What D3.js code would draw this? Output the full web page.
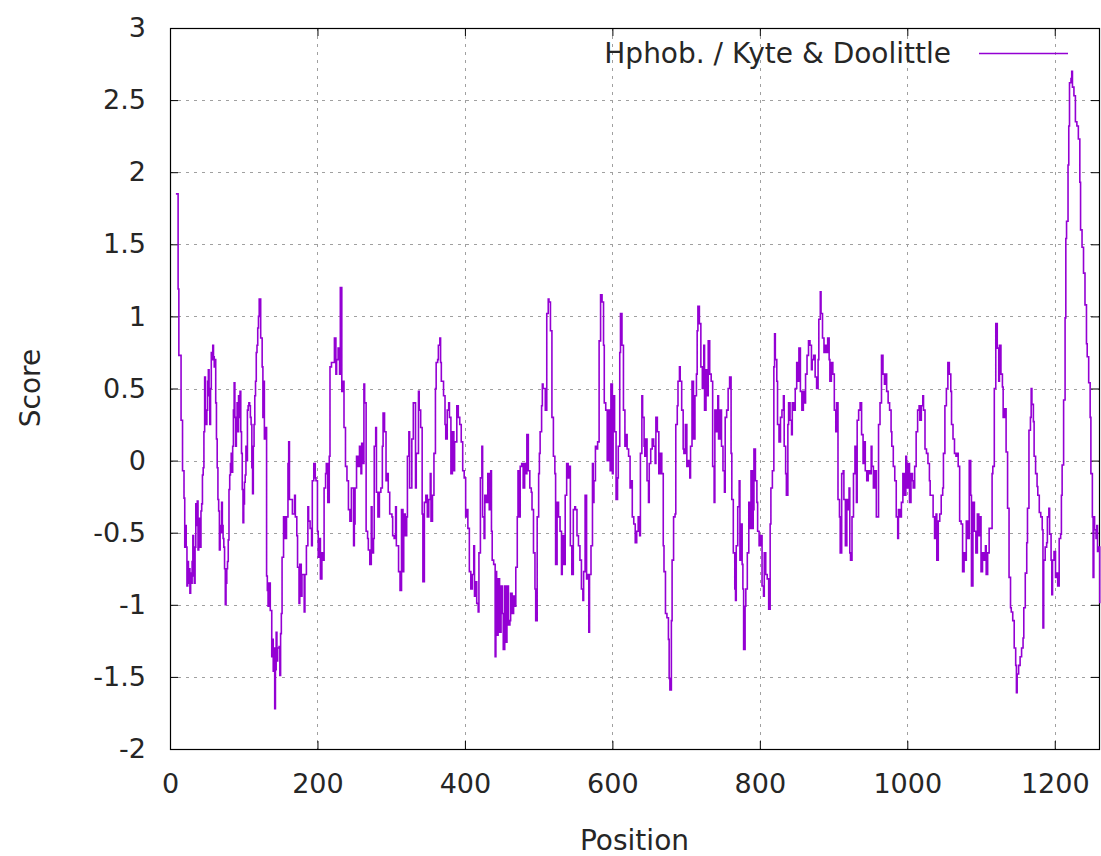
<!DOCTYPE html>
<html>
<head>
<meta charset="utf-8">
<script src="https://cdn.jsdelivr.net/npm/d3@7"></script>
<style>
  html, body { margin: 0; padding: 0; background: #fff; }
  svg { display: block; font-family: "DejaVu Sans", sans-serif; }
</style>
</head>
<body>
<svg id="chart" width="1101" height="856"></svg>
<script>
// Kyte & Doolittle hydropathy profile (sliding-window score per residue position)
const positions = [
  8,10,11,12,14,15,17,19,20,21,22,23,24,25,26,27,28,29,30,31,32,33,34,35,36,37,38,39,40,41,42,43,44,45,46,47,48,49,50,
  51,52,53,54,55,56,57,58,59,60,61,62,63,64,65,66,67,68,69,70,71,72,73,74,75,76,77,78,79,80,81,82,83,84,85,86,87,88,89,90,
  91,92,93,94,95,96,97,98,99,100,101,102,103,104,105,106,107,108,109,110,111,112,113,114,115,116,117,118,119,120,121,
  122,123,125,126,127,128,129,131,132,133,134,136,138,139,140,141,142,143,144,145,146,148,149,150,151,152,154,156,158,160,
  161,162,164,166,169,170,172,173,175,176,178,179,182,183,185,187,188,190,192,193,195,197,198,200,201,202,204,206,208,209,
  211,212,214,216,217,219,221,223,225,226,228,230,231,233,235,236,238,240,242,244,246,249,250,
  251,253,255,257,259,260,261,263,264,266,268,269,271,273,274,276,277,279,280,282,284,286,288,289,291,293,295,296,298,301,
  302,304,306,307,310,312,314,316,317,319,321,322,324,325,328,330,331,333,334,337,338,340,342,343,345,347,349,351,353,354,
  356,358,360,361,363,364,366,367,368,371,373,374,376,378,
  379,381,383,385,386,389,391,393,395,397,399,401,403,404,406,408,410,412,413,414,416,418,419,421,423,424,426,427,429,431,
  433,435,436,437,439,441,442,443,445,447,449,451,452,454,456,457,459,461,462,464,466,467,469,471,472,474,475,477,479,481,
  482,484,486,488,490,491,493,495,496,498,500,
  501,502,504,505,506,507,509,511,513,514,516,518,520,522,523,525,527,529,531,532,534,536,538,540,541,543,545,547,549,550,
  552,554,556,558,560,561,563,565,566,568,569,571,573,574,575,577,578,580,582,584,586,588,589,591,593,595,597,598,600,601,
  603,605,607,608,610,611,613,615,617,618,620,622,624,626,627,629,631,633,635,
  636,637,638,640,641,643,644,645,647,649,650,652,654,656,658,659,661,663,665,667,669,670,672,674,676,677,678,680,681,683,
  685,686,688,689,691,692,694,696,697,699,701,703,705,706,708,710,712,714,715,716,718,720,722,724,725,727,729,730,732,734,
  736,738,739,741,743,744,746,748,750,752,753,755,757,759,761,
  762,764,766,767,768,770,772,773,774,776,777,778,780,781,783,785,786,788,790,791,792,794,796,797,799,801,803,805,806,808,
  810,812,814,815,817,819,820,821,823,824,826,828,830,832,833,835,836,838,839,841,843,844,846,848,850,852,853,855,857,859,
  861,862,864,866,868,870,871,873,875,877,879,880,882,883,885,887,889,
  890,892,894,895,897,899,901,903,904,906,908,909,911,913,914,916,918,919,921,922,923,925,927,929,931,932,934,936,938,940,
  941,943,945,947,949,951,952,954,956,958,960,961,963,965,967,969,970,972,974,976,978,979,981,983,985,987,988,990,992,994,
  996,998,999,1001,1003,1005,1007,1008,1010,1012,1014,1016,1017,
  1019,1021,1022,1024,1026,1028,1030,1031,1033,1035,1037,1039,1040,1042,1044,1046,1048,1049,1051,1053,1055,1057,1059,1060,
  1062,1064,1066,1068,1069,1071,1073,1075,1077,1078,1080,1082,1084,1086,1087,1089,1091,1093,1095,1097,1098,1100,1102,1104,
  1106,1107,1109,1111,1113,1115,1116,1118,1120,1122,1124,1125,1127,
  1129,1130,1132,1134,1136,1138,1140,1141,1143,1145,1147,1148,1149,1151,1153,1155,1157,1158,1160,1162,1163,1165,1167,1168,
  1169,1171,1172,1174,1176,1177,1179,1181,1183,1184,1185,1187,1189,1190,1192,1193,1195,1196,1197,1199,1201,1203,1204,1206,
  1208,1209,1210,1212,1214,1215,1216,1218,1219,1220,1222,1223,1224,1226,1228,1230,1232,1234,1235,1237,1239,1241,1243,1244,
  1246,1248,1249,1251,1252,1253,1254,1256,1257,1258,1260,1261
];

const scores = [
  1.85,1.85,1.19,0.73,0.73,0.28,-0.07,-0.26,-0.6,-0.45,-0.6,-0.87,-0.7,-0.85,-0.75,-0.92,-0.78,-0.85,-0.7,-0.52,-0.8,-0.85,-0.6,-0.3,-0.45,-0.28,-0.62,-0.4,-0.4,-0.6,-0.35,-0.3,-0.1,-0.05,0.2,0.58,0.35,0.25,0.35,
  0.55,0.63,0.45,0.25,0.5,0.75,0.7,0.8,0.72,0.65,0.7,0.4,0.15,-0.05,-0.27,-0.35,-0.62,-0.45,-0.5,-0.29,-0.45,-0.54,-0.6,-0.75,-1.0,-0.85,-0.75,-0.7,-0.55,-0.2,-0.1,-0.02,0.05,-0.08,0.1,0.35,0.54,0.3,0.1,0.3,
  0.4,0.2,0.45,0.3,0.48,0.2,0.05,-0.2,-0.43,-0.3,-0.15,-0.1,0.1,0.0,0.35,0.38,0.4,0.38,0.3,0.25,-0.05,-0.23,0.1,0.25,0.45,0.55,0.75,0.8,0.92,1.0,1.12,
  1.12,0.85,0.65,0.3,0.55,0.15,0.23,-0.8,-0.9,-1.01,-0.85,-1.04,-1.36,-1.24,-1.46,-1.3,-1.72,-1.45,-1.19,-1.39,-1.3,-1.29,-1.49,-1.2,-1.06,-0.67,-0.39,-0.54,-0.39,-0.02,
  0.13,-0.27,-0.27,-0.37,-0.24,-0.39,-0.52,-0.74,-0.99,-0.72,-0.94,-0.79,-1.05,-0.79,-0.59,-0.32,-0.42,-0.47,-0.59,-0.14,-0.02,-0.12,-0.14,-0.49,-0.67,-0.54,-0.82,-0.64,-0.69,-0.19,
  -0.09,-0.02,-0.29,0.03,0.65,0.68,0.68,0.85,0.6,0.7,0.78,0.6,1.2,0.48,0.55,0.23,-0.04,-0.14,-0.34,-0.42,-0.19,-0.59,-0.44,
  -0.19,0.03,-0.04,0.1,-0.09,0.12,-0.02,0.53,0.4,-0.49,-0.54,-0.62,-0.72,-0.32,-0.64,-0.54,0.1,0.23,-0.22,-0.39,-0.22,-0.19,0.1,0.33,0.2,-0.14,-0.09,-0.22,-0.37,-0.39,
  -0.52,-0.54,-0.32,-0.59,-0.77,-0.9,-0.34,-0.77,-0.37,-0.52,-0.39,0.03,0.2,-0.19,0.15,0.4,0.4,-0.19,0.05,0.48,0.35,0.23,-0.37,-0.84,-0.29,-0.24,-0.39,-0.27,-0.09,-0.42,
  -0.24,0.05,0.5,0.68,0.7,0.8,0.85,0.68,0.55,0.45,0.25,0.15,0.35,0.4,
  0.3,-0.09,0.2,-0.07,0.13,0.38,0.3,0.25,0.13,-0.07,-0.12,-0.39,-0.34,-0.47,-0.77,-0.89,-0.79,-0.59,-0.94,-0.84,-0.99,-1.05,-0.64,-0.12,0.1,-0.39,-0.54,-0.24,-0.29,-0.09,
  -0.34,-0.07,-0.49,-0.69,-0.72,-1.36,-0.77,-1.21,-0.82,-1.19,-0.87,-1.06,-1.31,-0.87,-1.26,-0.87,-1.14,-1.11,-0.92,-1.06,-0.94,-1.01,-0.74,-0.39,-0.07,-0.39,-0.04,-0.02,-0.19,-0.02,
  -0.09,0.18,-0.07,-0.19,-0.22,-0.34,-0.64,-0.89,-1.11,-0.39,-0.09,
  0.05,0.2,0.38,0.53,0.5,0.5,0.35,1.02,1.12,1.1,0.9,0.3,0.03,-0.09,-0.72,-0.29,-0.39,-0.49,-0.79,-0.52,-0.72,-0.24,-0.02,-0.12,-0.04,-0.59,-0.79,-0.34,-0.32,-0.34,
  -0.52,-0.59,-0.69,-0.89,-0.97,-0.77,-0.24,-0.82,-0.79,-1.19,-0.79,-0.59,-0.02,-0.29,-0.14,0.1,0.08,0.13,0.83,1.15,1.1,0.8,0.4,0.35,0.0,0.35,-0.07,0.53,-0.09,0.45,
  0.2,-0.27,-0.12,0.1,0.75,1.02,0.8,0.35,0.1,0.18,0.08,0.03,-0.19,-0.14,-0.39,-0.44,-0.57,-0.49,-0.39,
  -0.42,-0.52,0.05,0.45,0.3,0.1,0.03,0.15,-0.14,-0.29,-0.02,0.08,0.15,0.1,-0.02,0.3,0.2,-0.09,0.05,-0.09,-0.59,-0.77,-1.06,-1.09,-1.24,-1.51,-1.59,-1.11,-0.69,-0.39,
  -0.37,0.25,0.38,0.55,0.65,0.55,0.35,0.08,0.05,0.25,-0.04,0.0,-0.12,0.1,0.55,0.15,0.45,0.6,0.9,1.07,0.95,0.65,0.5,0.8,0.35,0.63,0.45,0.83,0.6,0.55,
  -0.04,-0.29,0.35,0.2,0.45,0.15,0.35,0.1,-0.07,-0.22,0.3,0.35,0.5,0.58,0.05,
  -0.27,-0.64,-0.89,-0.97,-0.59,-0.32,-0.14,-0.69,-0.44,-0.72,-0.89,-1.31,-1.01,-0.89,-0.64,-0.29,-0.47,-0.07,-0.47,-0.34,0.08,-0.14,-0.29,-0.49,-0.59,-0.52,-0.87,-0.94,-0.64,-0.79,
  -0.82,-1.03,-0.44,-0.19,-0.07,0.65,0.88,0.7,0.55,0.25,0.13,0.3,0.35,0.45,0.1,-0.09,-0.24,0.25,0.4,0.28,0.18,0.4,0.35,0.5,0.68,0.55,0.78,0.48,0.35,0.48,
  0.4,0.6,0.73,0.83,0.8,0.63,0.7,0.73,0.58,0.5,0.7,0.98,1.17,1.02,0.85,0.75,0.8,
  0.75,0.85,0.7,0.55,0.68,0.6,0.35,0.2,0.4,-0.27,-0.39,-0.64,-0.09,-0.07,-0.27,-0.59,-0.27,-0.34,-0.19,-0.64,-0.69,-0.39,-0.09,0.1,-0.29,0.28,0.35,0.4,0.18,-0.02,
  0.13,-0.07,-0.14,-0.07,-0.09,0.1,-0.04,-0.19,-0.07,-0.39,-0.39,0.25,0.4,0.73,0.6,0.53,0.6,0.48,0.4,0.35,0.2,0.1,-0.04,-0.14,-0.39,-0.54,-0.34,-0.39,-0.29,-0.09,
  -0.24,0.03,-0.19,-0.02,-0.29,-0.09,-0.14,-0.19,-0.04,0.2,0.35,0.38,0.28,
  0.38,0.45,0.35,0.08,0.05,-0.02,-0.14,-0.24,-0.24,-0.39,-0.54,-0.37,-0.69,-0.42,-0.37,-0.24,-0.19,0.05,0.38,0.5,0.68,0.6,0.48,0.25,
  0.15,0.05,0.03,0.05,-0.04,-0.42,-0.44,-0.77,-0.64,-0.69,-0.42,-0.54,0.0,-0.24,-0.87,-0.29,-0.49,-0.64,-0.37,-0.52,-0.39,-0.77,-0.64,-0.69,
  -0.59,-0.79,-0.64,-0.47,-0.47,-0.09,-0.04,0.5,0.95,0.78,0.55,0.8,0.6,
  0.51,0.3,0.36,0.06,-0.33,-0.81,-1.02,-1.05,-1.11,-1.3,-1.42,-1.61,-1.48,-1.42,-1.36,-1.3,-1.23,-1.02,-0.78,-0.57,-0.33,0.21,0.3,0.5,
  0.39,0.27,0.03,-0.09,-0.18,-0.24,-0.36,-0.39,-0.48,-1.16,-0.69,-0.6,-0.57,-0.39,-0.33,-0.51,-0.69,-0.93,-0.69,-0.63,-0.81,-0.78,-0.87,-0.54,
  -0.51,-0.24,-0.03,0.42,0.99,1.54,1.66,2.05,2.32,2.62,2.65,2.7,2.59,2.53,2.35,2.32,2.23,1.93,1.6,1.48,1.3,1.08,0.81,0.72,
  0.54,0.3,-0.09,-0.39,-0.81,-0.39,-0.48,-0.54,-0.45,-0.63,-0.6,-0.99
];

const xTicks = [0, 200, 400, 600, 800, 1000, 1200];
const yTicks = [-2, -1.5, -1, -0.5, 0, 0.5, 1, 1.5, 2, 2.5, 3];
const seriesName = "Hphob. / Kyte & Doolittle";
const xTitle = "Position";
const yTitle = "Score";

const data = positions.map((p, i) => ({ pos: p, score: scores[i] }));

const svg = d3.select("#chart");
const plotL = 170, plotR = 1099, plotT = 28, plotB = 749;

const x = d3.scaleLinear().domain([0, 1260]).range([plotL, plotR]);
const y = d3.scaleLinear().domain([-2, 3]).range([plotB, plotT]);

const tickFont = 27;
const labelFont = 28;
const textColor = "#262626";
const purple = "#9400d3";

// grid
const grid = svg.append("g").attr("stroke", "#a0a0a0").attr("stroke-width", 1)
  .attr("stroke-dasharray", "3,5").attr("shape-rendering", "crispEdges");
grid.selectAll("line.h").data(yTicks.filter(t => t > -2 && t < 3)).join("line")
  .attr("class", "h")
  .attr("x1", plotL).attr("x2", plotR)
  .attr("y1", d => Math.round(y(d)) + 0.5).attr("y2", d => Math.round(y(d)) + 0.5);
grid.selectAll("line.v").data(xTicks.filter(t => t > 0)).join("line")
  .attr("class", "v")
  .attr("y1", plotT).attr("y2", plotB)
  .attr("x1", d => Math.round(x(d)) + 0.5).attr("x2", d => Math.round(x(d)) + 0.5);

// axes: ticks on all four sides, pointing inward
const axisBottom = d3.axisBottom(x).tickValues(xTicks).tickSize(-8).tickPadding(20).tickFormat(d3.format("d"));
const axisTop = d3.axisTop(x).tickValues(xTicks).tickSize(-8).tickFormat("");
const axisLeft = d3.axisLeft(y).tickValues(yTicks).tickSize(-8).tickPadding(24).tickFormat(d => String(d));
const axisRight = d3.axisRight(y).tickValues(yTicks).tickSize(-8).tickFormat("");

function styleAxis(g) {
  g.select(".domain").remove();
  g.selectAll(".tick line").attr("stroke", "#000").attr("stroke-width", 1);
  g.selectAll(".tick text").attr("fill", textColor).attr("font-size", tickFont)
    .attr("font-family", "DejaVu Sans, sans-serif");
}
svg.append("g").attr("transform", `translate(0,${plotB})`).call(axisBottom).call(styleAxis)
  .selectAll(".tick text").attr("dy", "0.9em");
svg.append("g").attr("transform", `translate(0,${plotT})`).call(axisTop).call(styleAxis);
svg.append("g").attr("transform", `translate(${plotL},0)`).call(axisLeft).call(styleAxis);
svg.append("g").attr("transform", `translate(${plotR},0)`).call(axisRight).call(styleAxis);

// plot frame
svg.append("rect")
  .attr("x", plotL + 0.5).attr("y", plotT + 0.5)
  .attr("width", plotR - plotL).attr("height", plotB - plotT)
  .attr("fill", "none").attr("stroke", "#000").attr("stroke-width", 1.2);

// hydropathy trace
const line = d3.line()
  .x(d => x(d.pos))
  .y(d => y(d.score))
  .curve(d3.curveStepAfter);

svg.append("path")
  .datum(data)
  .attr("fill", "none")
  .attr("stroke", purple)
  .attr("stroke-width", 1.6)
  .attr("stroke-linejoin", "miter")
  .attr("d", line);

// legend
svg.append("text")
  .attr("x", 951).attr("y", 53)
  .attr("text-anchor", "end").attr("dominant-baseline", "central")
  .attr("font-size", labelFont).attr("fill", textColor)
  .text(seriesName);
svg.append("line")
  .attr("x1", 979).attr("x2", 1068).attr("y1", 53.5).attr("y2", 53.5)
  .attr("stroke", purple).attr("stroke-width", 1.6);

// axis titles
svg.append("text")
  .attr("x", (plotL + plotR) / 2).attr("y", 840)
  .attr("text-anchor", "middle").attr("dominant-baseline", "central")
  .attr("font-size", labelFont).attr("fill", textColor)
  .text(xTitle);
svg.append("text")
  .attr("transform", "translate(30,388) rotate(-90)")
  .attr("text-anchor", "middle").attr("dominant-baseline", "central")
  .attr("font-size", labelFont).attr("fill", textColor)
  .text(yTitle);
</script>
</body>
</html>
